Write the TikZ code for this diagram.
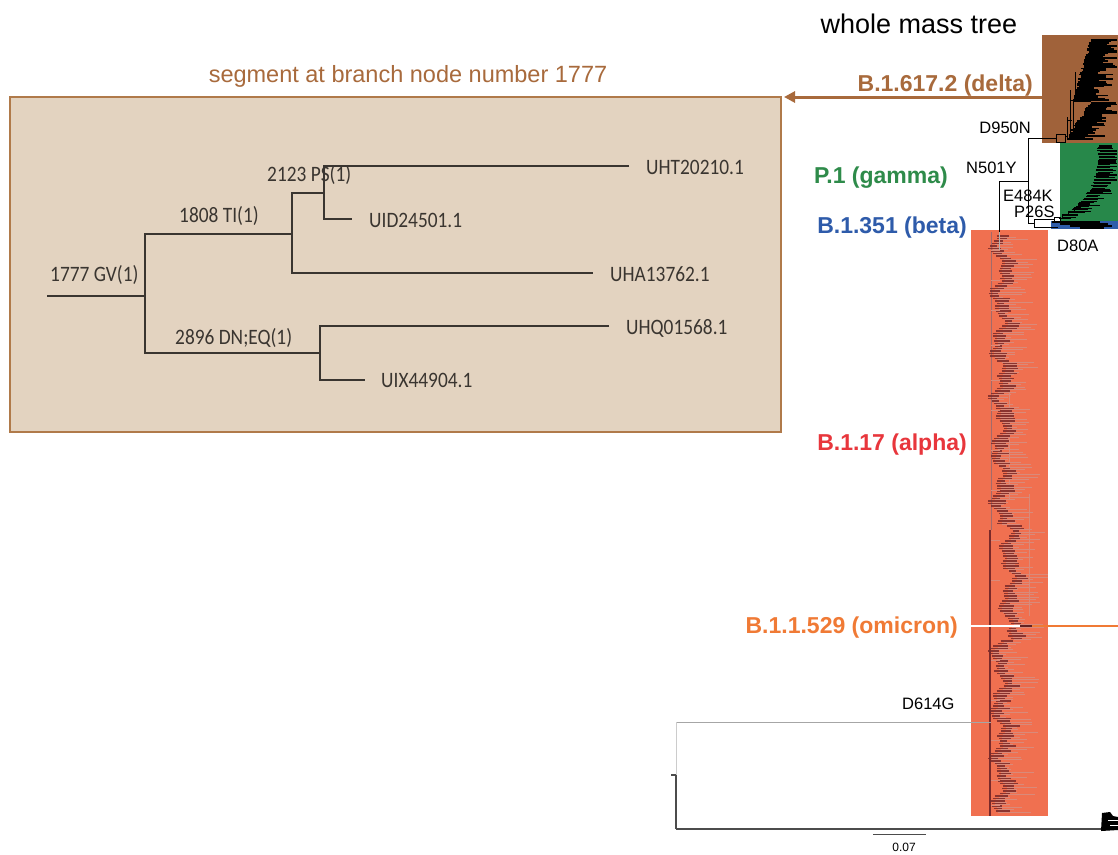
\documentclass[tikz,border=0pt]{standalone}
\usepackage{fontspec}
\setmainfont{Liberation Sans}
\newfontfamily\insetfont[FakeStretch=0.88]{Carlito}
\usetikzlibrary{arrows.meta}
\definecolor{brtext}{HTML}{A86A3C}
\definecolor{brbox}{HTML}{A0623A}
\definecolor{insetfill}{HTML}{E3D3C0}
\definecolor{insetline}{HTML}{B07A4A}
\definecolor{grbox}{HTML}{27884A}
\definecolor{grtext}{HTML}{2E8B4A}
\definecolor{blbox}{HTML}{2F5DAA}
\definecolor{bltext}{HTML}{2E5BAA}
\definecolor{rdbox}{HTML}{F07050}
\definecolor{rdtext}{HTML}{E8363C}
\definecolor{omtext}{HTML}{F07A35}
\definecolor{darkred}{HTML}{7A2A2A}
\definecolor{pinkred}{HTML}{D98A7A}
\definecolor{treegray}{HTML}{3A3530}
\tikzset{
  vlabel/.style={font=\bfseries\fontsize{23}{27}\selectfont, inner sep=0pt},
  mlabel/.style={font=\fontsize{16.5}{19}\selectfont, inner sep=0pt, text=black},
  ilabel/.style={font=\insetfont\fontsize{22}{25}\selectfont, inner sep=0pt, text=treegray},
  itree/.style={line width=2pt, draw=treegray},
  mtree/.style={line width=1pt, draw=black},
  blk/.style={line width=1.1pt, draw=black},
  redtree/.style={line width=1.3pt, draw=darkred, opacity=0.85},
  redthin/.style={line width=0.5pt, draw=pinkred},
}
\begin{document}
\begin{tikzpicture}[x=1pt,y=-1pt]
\useasboundingbox (0,0) rectangle (1118,854);
\fill[white] (0,0) rectangle (1118,854);

% titles
\node[font=\fontsize{27}{31}\selectfont, anchor=base, inner sep=0pt] (title) at (919,33) {whole mass tree};
\node[font=\fontsize{23.5}{27}\selectfont, anchor=base, inner sep=0pt, text=brtext] (segtitle) at (408,82) {segment at branch node number 1777};

% inset box
\node[draw=insetline, fill=insetfill, line width=1.5pt, minimum width=771pt, minimum height=335pt, anchor=north west, inner sep=0pt, outer sep=0pt] (inset) at (10,97) {};

% inset tree
\coordinate (root) at (47,296);
\coordinate (n1777) at (145,296);
\coordinate (n1808) at (292,234);
\coordinate (n2123) at (324,193);
\coordinate (n2896) at (320,353);
\coordinate (eUHT) at (629,166);
\coordinate (eUID) at (352,219);
\coordinate (eUHA) at (593,273);
\coordinate (eUHQ) at (609,326);
\coordinate (eUIX) at (365,380);
\draw[itree] (root) -- (n1777);
\draw[itree] (n1808) -| (n1777) |- (n2896);
\draw[itree] (n2123) -| (n1808) |- (eUHA);
\draw[itree] (eUHT) -| (n2123) |- (eUID);
\draw[itree] (eUHQ) -| (n2896) |- (eUIX);

\node[ilabel, anchor=base west] (l1777) at (50,281) {1777 GV(1)};
\node[ilabel, anchor=base west] (l1808) at (179,222) {1808 TI(1)};
\node[ilabel, anchor=base west] (l2123) at (267,181) {2123 PS(1)};
\node[ilabel, anchor=base west] (l2896) at (175,344) {2896 DN;EQ(1)};
\node[ilabel, anchor=base west] (lUHT) at (646,174) {UHT20210.1};
\node[ilabel, anchor=base west] (lUID) at (369,227) {UID24501.1};
\node[ilabel, anchor=base west] (lUHA) at (610,281) {UHA13762.1};
\node[ilabel, anchor=base west] (lUHQ) at (626,334) {UHQ01568.1};
\node[ilabel, anchor=base west] (lUIX) at (381,387) {UIX44904.1};

% clade boxes
\node[fill=rdbox, minimum width=77pt, minimum height=586pt, anchor=north west, inner sep=0pt, outer sep=0pt] (alphabox) at (971,230) {};
\node[fill=blbox, minimum width=67pt, minimum height=8pt, anchor=north west, inner sep=0pt, outer sep=0pt] (betabox) at (1051,221) {};
\node[fill=grbox, minimum width=58pt, minimum height=78pt, anchor=north west, inner sep=0pt, outer sep=0pt] (gammabox) at (1060,143) {};
\node[fill=brbox, minimum width=76pt, minimum height=108pt, anchor=north west, inner sep=0pt, outer sep=0pt] (deltabox) at (1042,35) {};

% arrow
\draw[draw=brtext, line width=3pt, -{Triangle[length=11pt,width=11pt]}] (deltabox.west |- inset.north) -- ([xshift=3pt]inset.north east);

% clade labels
\node[vlabel, text=brtext, anchor=base east] (ldelta) at (1033,91) {B.1.617.2 (delta)};
\node[vlabel, text=grtext, anchor=base east] (lgamma) at (948,183) {P.1 (gamma)};
\node[vlabel, text=bltext, anchor=base east] (lbeta) at (967,233) {B.1.351 (beta)};
\node[vlabel, text=rdtext, anchor=base east] (lalpha) at (967,450) {B.1.17 (alpha)};
\node[vlabel, text=omtext, anchor=base east] (lomicron) at (958,633) {B.1.1.529 (omicron)};

% mutation labels
\node[mlabel, anchor=base east] (mD950N) at (1031,133) {D950N};
\node[mlabel, anchor=base west] (mN501Y) at (966,173) {N501Y};
\node[mlabel, anchor=base west] (mE484K) at (1003,201) {E484K};
\node[mlabel, anchor=base west] (mP26S) at (1014,217) {P26S};
\node[mlabel, anchor=base west] (mD80A) at (1057,251) {D80A};
\node[mlabel, anchor=base west] (mD614G) at (902,709) {D614G};

% ---- red (alpha) tree ----
\pgfmathsetseed{4242}
\draw[line width=0.8pt, draw=darkred!70] (991,232) -- (991,530);
\draw[line width=1.2pt, draw=darkred] (990,530) -- (990,816);
\draw[line width=0.6pt, draw=pinkred] (1009,372) -- (1009,500);
\draw[line width=0.6pt, draw=pinkred] (1029,494) -- (1029,616);
\foreach \k in {0,...,230}{
  \pgfmathsetmacro\yy{236+2.5*\k}
  \pgfmathsetmacro\xc{1000+5*sin(\yy*7)+3*sin(\yy*17)+((\yy>525 && \yy<640) ? 9 : 0)}
  \pgfmathsetmacro\xa{\xc-2-3*rnd}
  \pgfmathsetmacro\xb{\xc+4+10*rnd}
  \pgfmathsetmacro\xd{\xc+8+26*rnd}
  \draw[redthin] (\xc,\yy+1) -- (\xd,\yy+1);
  \draw[redtree] (\xa,\yy) -- (\xb,\yy);
}
\foreach \yy in {250,280,310,345,380,410,450,490,540,580,660,700,740,780,805}{
  \draw[redthin] (991,\yy) -- (1000,\yy);
}

% omicron line
\draw[line width=2pt, draw=white] (971,626) -- (1020,626);
\draw[line width=2pt, draw=darkred!80!black] (1020,626) -- (1032,626);
\draw[line width=2pt, draw=omtext] (1032,626) -- (1118,626);

% ---- backbone lines ----
\draw[mtree] (1028,138) -- (1056,138);
\draw[mtree] (1028,138) -- (1028,223);
\draw[mtree] (999,181) -- (1028,181);
\draw[mtree] (999,181) -- (999,232);
\draw[line width=1pt, draw=gray!60] (999,232) -- (999,250);
\draw[mtree] (1028,223) -- (1034,223);
\draw[mtree] (1034,219) -- (1034,227);
\draw[mtree] (1034,219) -- (1054,219);
\draw[mtree] (1034,227) -- (1058,227);
\fill[white, draw=black, line width=0.6pt] (1054,217.5) rectangle (1060,221);

% ---- brown (delta) tree ----
\draw[mtree] (1056,134) rectangle (1065,142);
\draw[mtree] (1065,136) -- (1067,136) (1067,117) -- (1067,140);
\draw[mtree] (1070,90) -- (1070,140);
\draw[mtree] (1075,72) -- (1075,97);
\draw[mtree] (1073,100) -- (1073,130);
\draw[mtree] (1070,100) -- (1076,100) (1067,120) -- (1072,120);
\foreach \k in {0,...,66}{
  \pgfmathsetmacro\yy{40+1.5*\k}
  \pgfmathsetmacro\xl{(\yy<102) ? (1092-(\yy-40)*0.28) : (1092-(\yy-102)*0.65)}
  \pgfmathsetmacro\xs{\xl-3*rnd}
  \pgfmathsetmacro\xr{min(1117,\xl+15+20*rnd)}
  \draw[blk] (\xs,\yy) -- (\xr,\yy);
}

% ---- green (gamma) tree ----
\foreach \k in {0,...,50}{
  \pgfmathsetmacro\yy{146+1.45*\k}
  \pgfmathsetmacro\tt{(\yy-145)/73}
  \pgfmathsetmacro\xl{1100-38*\tt*\tt*\tt}
  \pgfmathsetmacro\xs{\xl-3*rnd}
  \pgfmathsetmacro\xr{min(1117,\xl+10+14*rnd)}
  \draw[blk] (\xs,\yy) -- (\xr,\yy);
}
\draw[mtree] (1062,218) -- (1062,214) -- (1068,214) -- (1068,211) -- (1074,211) -- (1074,207) -- (1080,207) -- (1080,202) -- (1085,202);

% ---- blue (beta) tree ----
\foreach \yy/\xa/\xb in {222/1052/1100, 224/1060/1108, 226/1070/1112, 228/1080/1104}{
  \draw[blk] (\xa,\yy) -- (\xb,\yy);
}

% ---- root part ----
\draw[line width=1pt, draw=gray!70] (676,722) -- (991,722);
\draw[line width=1pt, draw=gray!40] (676,722) -- (676,775);
\draw[line width=1.5pt, draw=black!70] (676,775) -- (676,829);
\draw[line width=1.5pt, draw=black!70] (671,775) -- (676,775);
\draw[line width=1.5pt, draw=black!70] (676,829) -- (1102,829);
\fill[black] (1102,813) -- (1110,812) -- (1113,816) -- (1118,817) -- (1118,830) -- (1101,831) -- cycle;
\draw[white, line width=0.6pt] (1108,820) -- (1118,820) (1110,825) -- (1118,825);

% scale bar
\draw[line width=1pt, draw=black!70] (873,834) -- (926,834);
\node[font=\fontsize{12}{14}\selectfont, anchor=base, inner sep=0pt] (scale) at (904,851) {0.07};
\end{tikzpicture}
\end{document}
